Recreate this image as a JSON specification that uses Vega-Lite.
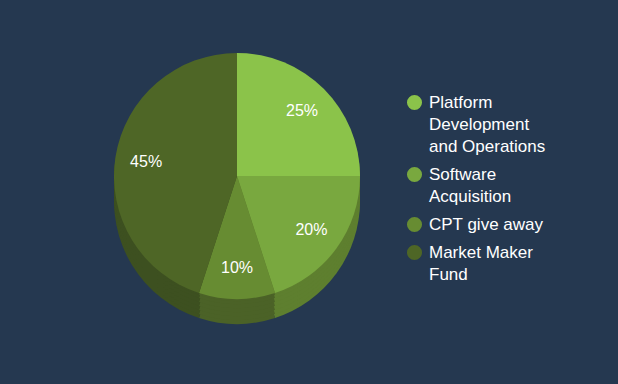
{
  "$schema": "https://vega.github.io/schema/vega-lite/v6.json",
  "width": 474,
  "height": 352,
  "autosize": {"type": "none"},
  "padding": {"left": 0, "top": 0, "right": 144, "bottom": 32},
  "background": "#253850",
  "config": {"view": {"stroke": null}, "font": "Liberation Sans"},
  "data": {
    "values": [
      {"idx": 1, "category": "Platform Development and Operations", "value": 25, "label": "25%"},
      {"idx": 2, "category": "Software Acquisition", "value": 20, "label": "20%"},
      {"idx": 3, "category": "CPT give away", "value": 10, "label": "10%"},
      {"idx": 4, "category": "Market Maker Fund", "value": 45, "label": "45%"}
    ]
  },
  "encoding": {
    "theta": {"field": "value", "type": "quantitative", "stack": true},
    "order": {"field": "idx", "type": "quantitative"}
  },
  "layer": [
    {"mark": {"type": "arc", "radius": 123, "yOffset": 25}, "encoding": {"fill": {"field": "category", "type": "nominal", "scale": {"domain": ["Market Maker Fund", "CPT give away", "Software Acquisition", "Platform Development and Operations"], "range": ["#3d5020", "#4b6227", "#5e7f2f", "#6e9a3b"]}, "legend": null}}},
    {"mark": {"type": "arc", "radius": 123, "yOffset": 21}, "encoding": {"fill": {"field": "category", "type": "nominal", "legend": null}}},
    {"mark": {"type": "arc", "radius": 123, "yOffset": 17}, "encoding": {"fill": {"field": "category", "type": "nominal", "legend": null}}},
    {"mark": {"type": "arc", "radius": 123, "yOffset": 13}, "encoding": {"fill": {"field": "category", "type": "nominal", "legend": null}}},
    {"mark": {"type": "arc", "radius": 123, "yOffset": 9}, "encoding": {"fill": {"field": "category", "type": "nominal", "legend": null}}},
    {"mark": {"type": "arc", "radius": 123, "yOffset": 5}, "encoding": {"fill": {"field": "category", "type": "nominal", "legend": null}}},
    {"mark": {"type": "arc", "radius": 123, "yOffset": 2}, "encoding": {"fill": {"field": "category", "type": "nominal", "legend": null}}},
    {
      "mark": {"type": "arc", "radius": 123},
      "encoding": {
        "color": {
          "field": "category",
          "type": "nominal",
          "scale": {"domain": ["Platform Development and Operations", "Software Acquisition", "CPT give away", "Market Maker Fund"], "range": ["#8bc34a", "#79a83f", "#678c32", "#4e6626"]},
          "legend": {
            "orient": "none",
            "legendX": 406,
            "legendY": 94,
            "title": null,
            "symbolType": "circle",
            "symbolSize": 227,
            "symbolStrokeWidth": 0,
            "labelFontSize": 17,
            "labelColor": "#ffffff",
            "labelFont": "Liberation Sans",
            "labelOffset": 6,
            "labelLimit": 300,
            "rowPadding": 10,
            "labelExpr": "datum.value == 'Platform Development and Operations' ? ['Platform', 'Development', 'and Operations'] : datum.value == 'Software Acquisition' ? ['Software', 'Acquisition'] : datum.value == 'Market Maker Fund' ? ['Market Maker', 'Fund'] : datum.value",
            "encode": {"labels": {"update": {"lineHeight": {"value": 22}}}}
          }
        }
      }
    },
    {
      "mark": {"type": "text", "radius": 92, "fontSize": 16, "fill": "#ffffff", "font": "Liberation Sans"},
      "encoding": {"text": {"field": "label", "type": "nominal"}}
    }
  ]
}
